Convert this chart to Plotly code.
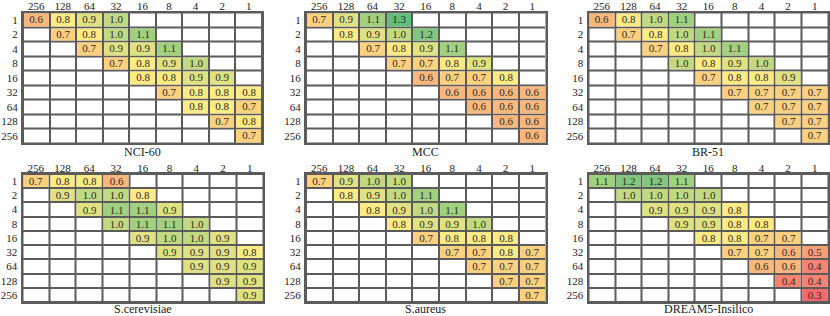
import plotly.graph_objects as go

col_labels = ["256", "128", "64", "32", "16", "8", "4", "2", "1"]
row_labels = ["1", "2", "4", "8", "16", "32", "64", "128", "256"]
N = None

nci60 = [
    [0.6, 0.8, 0.9, 1.0, N, N, N, N, N],
    [N, 0.7, 0.8, 1.0, 1.1, N, N, N, N],
    [N, N, 0.7, 0.9, 0.9, 1.1, N, N, N],
    [N, N, N, 0.7, 0.8, 0.9, 1.0, N, N],
    [N, N, N, N, 0.8, 0.8, 0.9, 0.9, N],
    [N, N, N, N, N, 0.7, 0.8, 0.8, 0.8],
    [N, N, N, N, N, N, 0.8, 0.8, 0.7],
    [N, N, N, N, N, N, N, 0.7, 0.8],
    [N, N, N, N, N, N, N, N, 0.7],
]
mcc = [
    [0.7, 0.9, 1.1, 1.3, N, N, N, N, N],
    [N, 0.8, 0.9, 1.0, 1.2, N, N, N, N],
    [N, N, 0.7, 0.8, 0.9, 1.1, N, N, N],
    [N, N, N, 0.7, 0.7, 0.8, 0.9, N, N],
    [N, N, N, N, 0.6, 0.7, 0.7, 0.8, N],
    [N, N, N, N, N, 0.6, 0.6, 0.6, 0.6],
    [N, N, N, N, N, N, 0.6, 0.6, 0.6],
    [N, N, N, N, N, N, N, 0.6, 0.6],
    [N, N, N, N, N, N, N, N, 0.6],
]
br51 = [
    [0.6, 0.8, 1.0, 1.1, N, N, N, N, N],
    [N, 0.7, 0.8, 1.0, 1.1, N, N, N, N],
    [N, N, 0.7, 0.8, 1.0, 1.1, N, N, N],
    [N, N, N, 1.0, 0.8, 0.9, 1.0, N, N],
    [N, N, N, N, 0.7, 0.8, 0.8, 0.9, N],
    [N, N, N, N, N, 0.7, 0.7, 0.7, 0.7],
    [N, N, N, N, N, N, 0.7, 0.7, 0.7],
    [N, N, N, N, N, N, N, 0.7, 0.7],
    [N, N, N, N, N, N, N, N, 0.7],
]
scerevisiae = [
    [0.7, 0.8, 0.8, 0.6, N, N, N, N, N],
    [N, 0.9, 1.0, 1.0, 0.8, N, N, N, N],
    [N, N, 0.9, 1.1, 1.1, 0.9, N, N, N],
    [N, N, N, 1.0, 1.1, 1.1, 1.0, N, N],
    [N, N, N, N, 0.9, 1.0, 1.0, 0.9, N],
    [N, N, N, N, N, 0.9, 0.9, 0.9, 0.8],
    [N, N, N, N, N, N, 0.9, 0.9, 0.9],
    [N, N, N, N, N, N, N, 0.9, 0.9],
    [N, N, N, N, N, N, N, N, 0.9],
]
saureus = [
    [0.7, 0.9, 1.0, 1.0, N, N, N, N, N],
    [N, 0.8, 0.9, 1.0, 1.1, N, N, N, N],
    [N, N, 0.8, 0.9, 1.0, 1.1, N, N, N],
    [N, N, N, 0.8, 0.9, 0.9, 1.0, N, N],
    [N, N, N, N, 0.7, 0.8, 0.8, 0.8, N],
    [N, N, N, N, N, 0.7, 0.7, 0.8, 0.7],
    [N, N, N, N, N, N, 0.7, 0.7, 0.7],
    [N, N, N, N, N, N, N, 0.7, 0.7],
    [N, N, N, N, N, N, N, N, 0.7],
]
dream5 = [
    [1.1, 1.2, 1.2, 1.1, N, N, N, N, N],
    [N, 1.0, 1.0, 1.0, 1.0, N, N, N, N],
    [N, N, 0.9, 0.9, 0.9, 0.8, N, N, N],
    [N, N, N, 0.9, 0.9, 0.8, 0.8, N, N],
    [N, N, N, N, 0.8, 0.8, 0.7, 0.7, N],
    [N, N, N, N, N, 0.7, 0.7, 0.6, 0.5],
    [N, N, N, N, N, N, 0.6, 0.6, 0.4],
    [N, N, N, N, N, N, N, 0.4, 0.4],
    [N, N, N, N, N, N, N, N, 0.3],
]

panel_titles = ["NCI-60", "MCC", "BR-51", "S.cerevisiae", "S.aureus", "DREAM5-Insilico"]
panel_data = [nci60, mcc, br51, scerevisiae, saureus, dream5]

W, H = 830, 316
# panel pixel boxes: left, right, top, bottom
boxes = [
    (23, 262, 12.5, 143),
    (306, 545.5, 12.5, 143),
    (588.5, 828, 12.5, 143),
    (22.5, 263, 174, 302),
    (306, 545.5, 174, 302),
    (588.5, 828, 174, 302),
]
title_centers = [152, 152, 152, 309, 309, 309]

colorscale = [[0.0, "#F8696B"], [0.5, "#FFEB84"], [1.0, "#63BE7B"]]
gridc = "#5b5b5b"
font_family = "Liberation Serif"

fig = go.Figure()
layout_axes = {}
annotations = []
for i, (title, z) in enumerate(zip(panel_titles, panel_data)):
    k = "" if i == 0 else str(i + 1)
    xa, ya = "x" + k, "y" + k
    xs = list(range(len(col_labels)))
    ys = list(range(len(row_labels)))
    white = [[0 for _ in xs] for _ in ys]
    fig.add_trace(go.Heatmap(
        z=white, x=xs, y=ys, xaxis=xa, yaxis=ya,
        colorscale=[[0, "white"], [1, "white"]], showscale=False,
        xgap=2, ygap=2, hoverinfo="skip"))
    fig.add_trace(go.Heatmap(
        z=z, x=xs, y=ys, xaxis=xa, yaxis=ya,
        colorscale=colorscale, zmin=0.3, zmax=1.3, showscale=False,
        xgap=2, ygap=2, texttemplate="%{z:.1f}",
        textfont=dict(size=11, color="#2a2a2a", family=font_family)))
    l, r, t, b = boxes[i]
    layout_axes["xaxis" + k] = dict(
        domain=[l / W, r / W], range=[-0.5, 8.5], side="top",
        tickvals=xs, ticktext=col_labels, ticks="", showgrid=False,
        zeroline=False, showline=True, mirror=True, linecolor=gridc,
        linewidth=2, tickfont=dict(size=11, color="#222", family=font_family),
        anchor=ya, fixedrange=True, automargin=False, ticklabelstandoff=-4)
    layout_axes["yaxis" + k] = dict(
        domain=[1 - b / H, 1 - t / H], range=[8.5, -0.5],
        tickvals=ys, ticktext=row_labels, ticks="", showgrid=False,
        zeroline=False, showline=True, mirror=True, linecolor=gridc,
        linewidth=2, tickfont=dict(size=11, color="#222", family=font_family),
        anchor=xa, fixedrange=True, automargin=False, ticklabelstandoff=1)
    annotations.append(dict(
        text=title, xref=xa + " domain", yref="paper", x=0.5,
        y=1 - title_centers[i] / H,
        xanchor="center", yanchor="middle", showarrow=False, borderpad=0,
        font=dict(size=12, color="#222", family=font_family)))

fig.update_layout(
    width=W, height=H, margin=dict(l=0, r=0, t=0, b=0),
    font=dict(family=font_family),
    paper_bgcolor="white", plot_bgcolor=gridc,
    annotations=annotations, **layout_axes)

fig.write_html(
    "out.html",
    config={"displayModeBar": False},
    post_script="document.body.style.margin='0';document.body.style.overflow='hidden';")
